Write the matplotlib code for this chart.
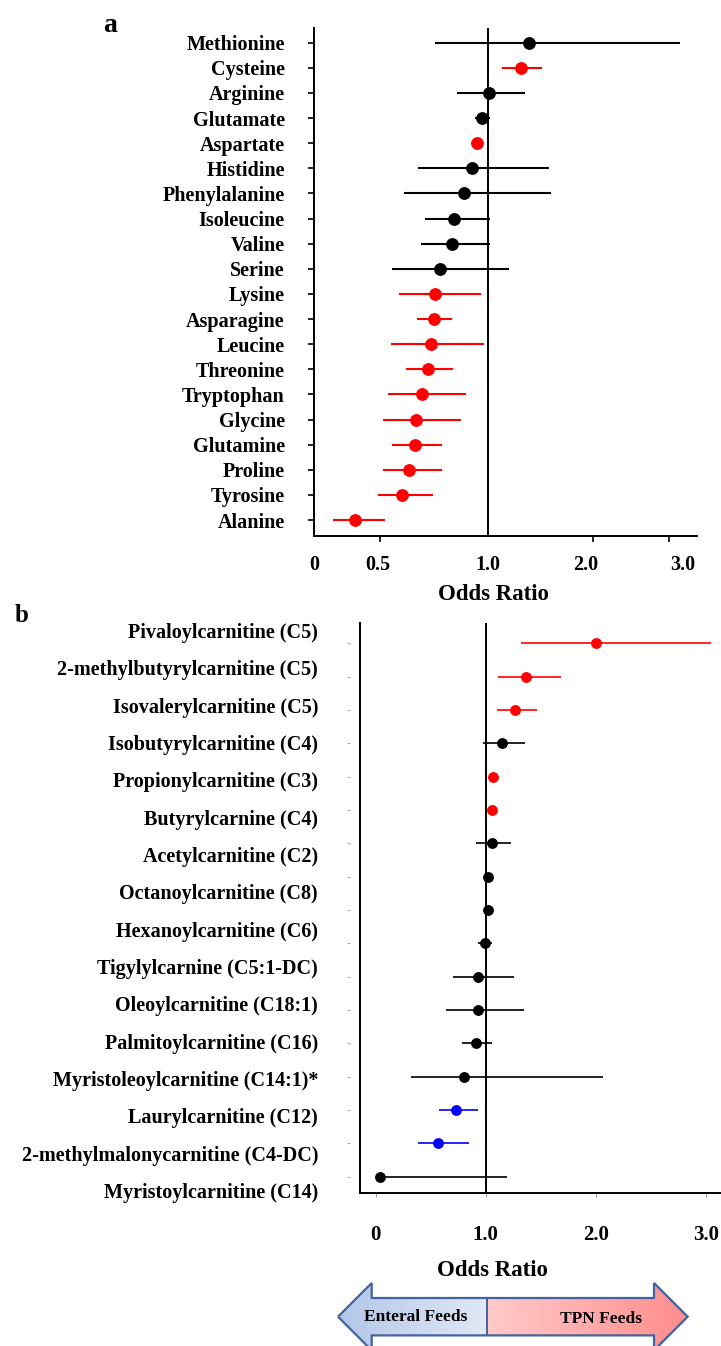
import numpy as np
import matplotlib
matplotlib.use('Agg')
import matplotlib.pyplot as plt
from matplotlib.path import Path
from matplotlib.patches import PathPatch, Polygon

plt.rcParams['font.family'] = ['Liberation Serif', 'DejaVu Serif']
plt.rcParams['font.weight'] = 'bold'

# ---------------- Panel a data ----------------
amino_acids = ['Methionine', 'Cysteine', 'Arginine', 'Glutamate', 'Aspartate',
               'Histidine', 'Phenylalanine', 'Isoleucine', 'Valine', 'Serine',
               'Lysine', 'Asparagine', 'Leucine', 'Threonine', 'Tryptophan',
               'Glycine', 'Glutamine', 'Proline', 'Tyrosine', 'Alanine']
aa_or = [1.39, 1.32, 1.01, 0.975, 0.95, 0.93, 0.89, 0.846, 0.835, 0.78,
         0.756, 0.75, 0.736, 0.722, 0.698, 0.668, 0.662, 0.636, 0.605, 0.311]
aa_lo = [0.755, 1.14, 0.86, 0.944, 0.921, 0.679, 0.614, 0.71, 0.69, 0.556,
         0.591, 0.671, 0.551, 0.622, 0.538, 0.514, 0.557, 0.515, 0.485, 0.142]
aa_hi = [3.15, 1.516, 1.352, 1.022, 0.98, 1.585, 1.597, 1.022, 1.022, 1.205,
         0.971, 0.837, 0.985, 0.839, 0.901, 0.875, 0.788, 0.787, 0.749, 0.526]
aa_colors = ['black', 'red', 'black', 'black', 'red', 'black', 'black', 'black',
             'black', 'black', 'red', 'red', 'red', 'red', 'red', 'red', 'red',
             'red', 'red', 'red']
a_tick_values = [0.5, 1.0, 2.0, 3.0]
a_label_values = [0.0, 0.485, 1.0, 1.925, 3.184]
a_label_text = ['0', '0.5', '1.0', '2.0', '3.0']

# ---------------- Panel b data ----------------
acyl_labels = ['Pivaloylcarnitine (C5)', '2-methylbutyrylcarnitine (C5)',
               'Isovalerylcarnitine (C5)', 'Isobutyrylcarnitine (C4)',
               'Propionylcarnitine (C3)', 'Butyrylcarnine (C4)',
               'Acetylcarnitine (C2)', 'Octanoylcarnitine (C8)',
               'Hexanoylcarnitine (C6)', 'Tigylylcarnine (C5:1-DC)',
               'Oleoylcarnitine (C18:1)', 'Palmitoylcarnitine (C16)',
               'Myristoleoylcarnitine (C14:1)*', 'Laurylcarnitine (C12)',
               '2-methylmalonycarnitine (C4-DC)', 'Myristoylcarnitine (C14)']
acyl_or = [2.0, 1.366, 1.27, 1.148, 1.064, 1.06, 1.057, 1.018, 1.018, 0.994,
           0.933, 0.927, 0.909, 0.806, 0.727, 0.569, 0.039]
acyl_lo = [1.318, 1.109, 1.103, 0.973, 1.064, 1.06, 0.909, 1.018, 1.018, 0.933,
           0.70, 0.639, 0.788, 0.318, 0.573, 0.388, 0.02]
acyl_hi = [3.048, 1.682, 1.464, 1.357, 1.064, 1.06, 1.23, 1.018, 1.018, 1.06,
           1.255, 1.351, 1.055, 2.069, 0.93, 0.845, 1.195]
acyl_colors = ['red', 'red', 'red', 'black', 'red', 'red', 'black', 'black',
               'black', 'black', 'black', 'black', 'black', 'black', 'blue',
               'blue', 'black']
b_ticks = [0, 1, 2, 3]
b_tick_text = ['0', '1.0', '2.0', '3.0']

W, H = 721, 1346
fig = plt.figure(figsize=(W / 100, H / 100), dpi=100)


def rect(l, t, r, b):
    return [l / W, 1 - b / H, (r - l) / W, (b - t) / H]


# piecewise scale used by panel a's axis
scale_vals = np.array([0.0, 0.5, 1.0, 2.0, 3.0, 4.0])
scale_pos = np.array([0.0, 66.0, 174.0, 280.0, 356.0, 432.0])


def fwd(v):
    return np.interp(v, scale_vals, scale_pos)


def inv(p):
    return np.interp(p, scale_pos, scale_vals)


# ---------------- Panel a ----------------
axa = fig.add_axes(rect(314, 28, 697, 535.7))
axa.set_xscale('function', functions=(fwd, inv))
ya = np.arange(len(amino_acids))
axa.axvline(1.0, color='black', lw=1.4, zorder=1.5)
for i in range(len(amino_acids)):
    c = aa_colors[i]
    axa.errorbar(aa_or[i], ya[i],
                 xerr=[[aa_or[i] - aa_lo[i]], [aa_hi[i] - aa_or[i]]],
                 fmt='o', color=c, ecolor=c, mec=c, ms=8.2, elinewidth=1.5,
                 capsize=0, zorder=3)
axa.set_xlim(0, 3.368)
axa.set_ylim(len(amino_acids) - 1 + 0.625, -0.586)
axa.set_yticks(ya)
axa.set_yticklabels(amino_acids, fontsize=14.5, fontweight='bold')
axa.tick_params(axis='y', length=4, width=1.2, pad=17)
axa.set_xticks(a_label_values)
axa.set_xticklabels(a_label_text, fontsize=14.5, fontweight='bold')
axa.set_xticks(a_tick_values, minor=True)
axa.xaxis.set_minor_formatter(plt.NullFormatter())
axa.tick_params(axis='x', which='major', length=0, pad=14)
axa.tick_params(axis='x', which='minor', length=4, width=1.2)
for s in ['top', 'right']:
    axa.spines[s].set_visible(False)
for s in ['left', 'bottom']:
    axa.spines[s].set_linewidth(1.4)

# ---------------- Panel b ----------------
axb = fig.add_axes(rect(360, 623, 721, 1193.3))
yb = np.arange(len(acyl_or))
axb.axvline(1.0, color='black', lw=1.4, zorder=1.5)
for i in range(len(acyl_or)):
    c = acyl_colors[i]
    axb.errorbar(acyl_or[i], yb[i],
                 xerr=[[acyl_or[i] - acyl_lo[i]], [acyl_hi[i] - acyl_or[i]]],
                 fmt='o', color=c, ecolor=c, mec=c, ms=6.8, elinewidth=1.2,
                 capsize=0, zorder=3)
axb.set_xlim(-0.143, 3.139)
axb.set_ylim(len(acyl_or) - 0.5, -0.61)
axb.set_yticks([])
sec = axb.secondary_yaxis(-0.028)
sec.set_yticks(yb)
sec.set_yticklabels([])
sec.spines['left'].set_visible(False)
sec.tick_params(length=2.5, width=0.8, color='#aaaaaa')
for j, lab in enumerate(acyl_labels):
    axb.text(-0.116, -0.31 + 1.12 * j, lab, transform=axb.get_yaxis_transform(),
             ha='right', va='center', fontsize=14.5, fontweight='bold')
axb.set_xticks(b_ticks)
axb.set_xticklabels(b_tick_text, fontsize=15, fontweight='bold')
axb.tick_params(axis='x', length=3, width=0.8, color='#999999', pad=20)
for s in ['top', 'right']:
    axb.spines[s].set_visible(False)
for s in ['left', 'bottom']:
    axb.spines[s].set_linewidth(1.4)

# ---------------- Overlay: panel letters, axis titles, arrow ----------------
ov = fig.add_axes([0, 0, 1, 1], zorder=5)
ov.axis('off')
ov.text(110, 32, 'a', fontsize=20, fontweight='bold', ha='center', va='baseline')
ov.text(22, 622, 'b', fontsize=18, fontweight='bold', ha='center', va='baseline')
ov.text(493, 600, 'Odds Ratio', fontsize=16.5, fontweight='bold', ha='center', va='baseline')
ov.text(492, 1276, 'Odds Ratio', fontsize=16.5, fontweight='bold', ha='center', va='baseline')

cy = 1316.7
xl, xlb, xm, xrb, xr = 338, 371.7, 486.7, 654, 687.7
hh, bh = 33.7, 18.7
left_poly = [(xl, cy), (xlb, cy - hh), (xlb, cy - bh), (xm, cy - bh),
             (xm, cy + bh), (xlb, cy + bh), (xlb, cy + hh)]
right_poly = [(xm, cy - bh), (xrb, cy - bh), (xrb, cy - hh), (xr, cy),
              (xrb, cy + hh), (xrb, cy + bh), (xm, cy + bh)]
full_poly = [(xl, cy), (xlb, cy - hh), (xlb, cy - bh), (xrb, cy - bh),
             (xrb, cy - hh), (xr, cy), (xrb, cy + hh), (xrb, cy + bh),
             (xlb, cy + bh), (xlb, cy + hh)]


def gradient(c0, c1, n=256):
    c0 = np.array(matplotlib.colors.to_rgb(c0))
    c1 = np.array(matplotlib.colors.to_rgb(c1))
    t = np.linspace(0, 1, n)[None, :, None]
    return c0 + (c1 - c0) * t


lp = Polygon(left_poly, closed=True, facecolor='none', edgecolor='none')
ov.add_patch(lp)
im1 = ov.imshow(gradient('#b3c6e8', '#e0e8f6'), extent=(xl, xm, cy + hh, cy - hh),
                aspect='auto', zorder=1)
im1.set_clip_path(lp)
rp = Polygon(right_poly, closed=True, facecolor='none', edgecolor='none')
ov.add_patch(rp)
im2 = ov.imshow(gradient('#ffcaca', '#ff8c8c'), extent=(xm, xr, cy + hh, cy - hh),
                aspect='auto', zorder=1)
im2.set_clip_path(rp)
ov.add_patch(Polygon(full_poly, closed=True, facecolor='none', edgecolor='#41649c',
                     lw=1.6, zorder=2))
ov.plot([xm, xm], [cy - bh, cy + bh], color='#41649c', lw=1.4, zorder=2)
ov.text(416, cy, 'Enteral Feeds', fontsize=12.5, fontweight='bold', ha='center',
        va='center', zorder=3)
ov.text(601, cy + 2, 'TPN Feeds', fontsize=12.5, fontweight='bold', ha='center',
        va='center', zorder=3)
ov.set_xlim(0, W)
ov.set_ylim(H, 0)

fig.savefig('out.png', dpi=100)
